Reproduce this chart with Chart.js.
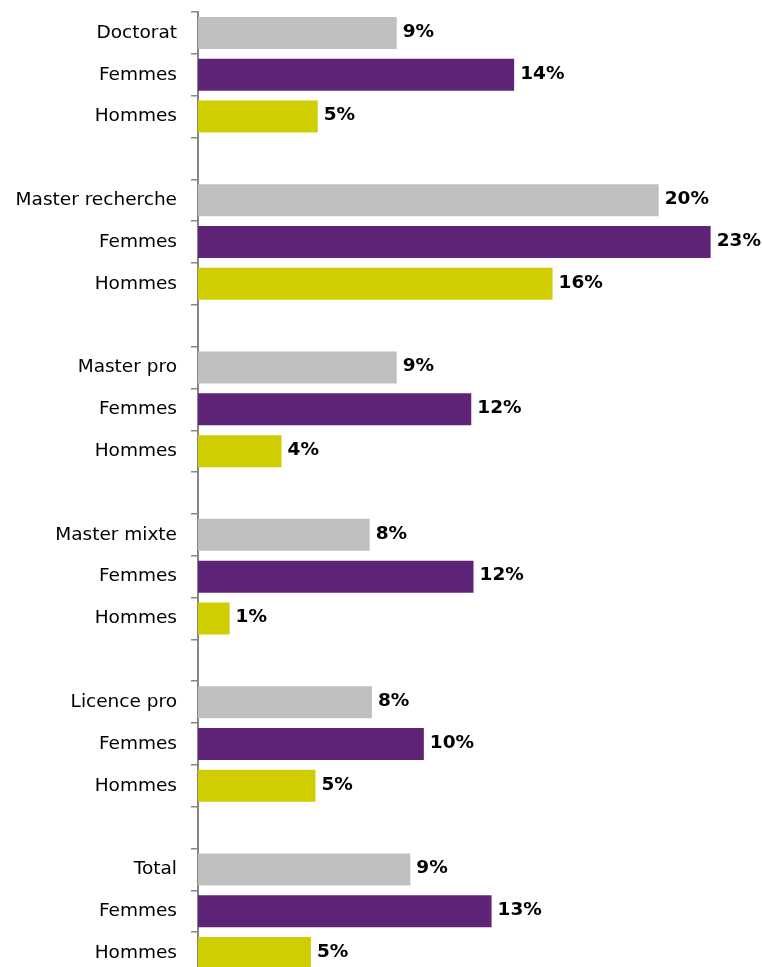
<!DOCTYPE html>
<html>
<head>
<meta charset="utf-8">
<script src="https://cdn.jsdelivr.net/npm/chart.js@4.4.1/dist/chart.umd.min.js"></script>
<style>
  html, body { margin: 0; padding: 0; background: #fff; overflow: hidden; }
  #wrap { position: relative; width: 762px; height: 976px; }
</style>
</head>
<body>
<div id="wrap"><canvas id="myChart"></canvas></div>
<script>
// groups top to bottom, each with a total row then Femmes / Hommes
const groups = ['Doctorat', 'Master recherche', 'Master pro', 'Master mixte', 'Licence pro', 'Total'];
const totalValues  = [8.8, 20.4, 8.8, 7.6, 7.7, 9.4];
const femmesValues = [14.0, 22.7, 12.1, 12.2, 10.0, 13.0];
const hommesValues = [5.3, 15.7, 3.7, 1.4, 5.2, 5.0];
const subLabels = ['Femmes', 'Hommes'];

const greyColor = '#BFBFBF';
const purpleColor = '#5F2378';
const yellowColor = '#D0CE00';
const axisColor = '#868686';

// one row per bar, blank row between groups
let labels = [];
let values = [];
let colors = [];
for (let i = 0; i < groups.length; i++) {
    labels.push(groups[i]);      values.push(totalValues[i]);  colors.push(greyColor);
    labels.push(subLabels[0]);   values.push(femmesValues[i]); colors.push(purpleColor);
    labels.push(subLabels[1]);   values.push(hommesValues[i]); colors.push(yellowColor);
    if (i < groups.length - 1) {
        labels.push('');         values.push(null);            colors.push(greyColor);
    }
}

// value labels at the end of each bar
const barLabels = {
    id: 'barLabels',
    afterDatasetsDraw(chart) {
        const ctx = chart.ctx;
        const meta = chart.getDatasetMeta(0);
        ctx.save();
        ctx.font = 'bold 18.5px "DejaVu Sans"';
        ctx.fillStyle = '#000';
        ctx.textAlign = 'left';
        ctx.textBaseline = 'middle';
        meta.data.forEach(function(bar, i){
            const v = values[i];
            if (v == null) return;
            ctx.fillText(Math.round(v) + '%', bar.x + 6, bar.y - 1);
        });
        ctx.restore();
    }
};

const ctx = document.getElementById('myChart');

new Chart(ctx, {
    type: 'bar',
    data: {
        labels: labels,
        datasets: [{
            data: values,
            backgroundColor: colors,
            borderWidth: 0,
            categoryPercentage: 1,
            barPercentage: 0.765
        }]
    },
    options: {
        indexAxis: 'y',
        responsive: true,
        maintainAspectRatio: false,
        animation: false,
        layout: { padding: { top: 12, bottom: 2, right: 22, left: 0 } },
        plugins: {
            legend: { display: false },
            tooltip: { enabled: false }
        },
        scales: {
            x: {
                display: false,
                min: 0,
                max: 24
            },
            y: {
                offset: true,
                afterFit: function(scale){
                    scale.width = 198;
                    scale.paddingTop = 0;
                    scale.paddingBottom = 0;
                },
                grid: {
                    offset: true,
                    drawOnChartArea: false,
                    drawTicks: true,
                    tickLength: 7,
                    color: axisColor,
                    lineWidth: 1.5
                },
                border: { display: true, color: axisColor, width: 2 },
                ticks: {
                    padding: 14,
                    color: '#000',
                    autoSkip: false,
                    font: { family: '"DejaVu Sans"', size: 18.5 }
                }
            }
        }
    },
    plugins: [barLabels]
});
</script>
</body>
</html>
